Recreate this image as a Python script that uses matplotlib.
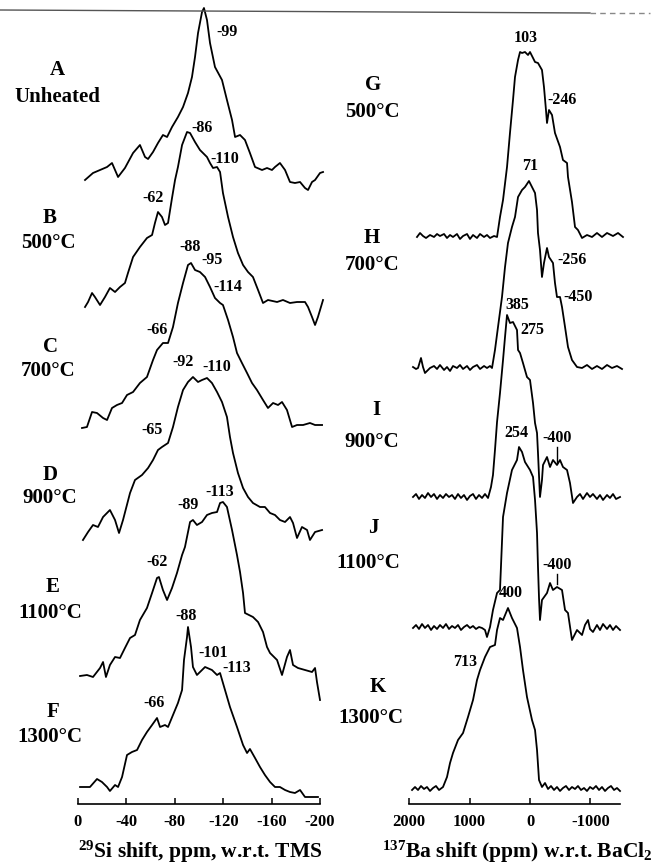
import numpy as np
import matplotlib
matplotlib.use("Agg")
import matplotlib.pyplot as plt
from matplotlib.lines import Line2D

plt.rcParams['font.family'] = ['Liberation Serif', 'DejaVu Serif']
plt.rcParams['font.weight'] = 'bold'
plt.rcParams['mathtext.fontset'] = 'custom'
plt.rcParams['mathtext.rm'] = 'Liberation Serif:bold'
plt.rcParams['mathtext.it'] = 'Liberation Serif:bold'
plt.rcParams['mathtext.bf'] = 'Liberation Serif:bold'

# ---------------- data ----------------
si_ticks = [0, -40, -80, -120, -160, -200]
si_tick_labels = ["0", "-40", "-80", "-120", "-160", "-200"]
ba_ticks = [2000, 1000, 0, -1000]
ba_tick_labels = ["2000", "1000", "0", "-1000"]

si_names = ["A", "B", "C", "D", "E", "F"]
si_conditions = ["Unheated", "500°C", "700°C", "900°C", "1100°C", "1300°C"]
ba_names = ["G", "H", "I", "J", "K"]
ba_conditions = ["500°C", "700°C", "900°C", "1100°C", "1300°C"]

# 29Si spectra: chemical shift (ppm) and intensity (arb.)
siA_ppm = [-5.8, -12.4, -18.2, -24.0, -28.1, -33.1, -38.8, -45.5, -51.2, -55.4, -57.9, -62.0, -66.1, -70.2,
           -73.6, -77.7, -82.6, -86.8, -90.9, -94.2, -96.7, -99.2, -102.5, -104.1, -106.6, -109.1, -113.2,
           -119.0, -123.1, -127.3, -129.8, -133.9, -138.0, -142.1, -146.3, -152.1, -156.2, -160.3, -162.8,
           -166.9, -171.1, -175.2, -179.3, -183.5, -187.6, -190.1, -193.4, -195.9, -200.0, -202.5]
siA_int = [2, 9, 12, 15, 19, 5, 14, 29, 37, 25, 23, 30, 39, 47, 45, 55, 65, 75, 89, 105, 125, 149, 170, 174,
           162, 139, 115, 102, 82, 62, 45, 47, 42, 29, 15, 12, 14, 12, 15, 19, 12, 0, -1, 0, -6, -8, 0, 2, 9, 10]

siB_ppm = [-5.8, -8.3, -11.6, -14.0, -18.2, -22.3, -26.4, -30.6, -34.7, -38.8, -41.3, -45.5, -51.2, -57.0,
           -61.2, -63.6, -66.1, -69.4, -71.9, -74.4, -77.7, -80.2, -82.6, -86.0, -90.1, -92.6, -96.7, -100.8,
           -106.6, -109.1, -111.6, -114.9, -117.4, -119.8, -124.0, -128.1, -132.2, -136.4, -140.5, -144.6,
           -148.8, -152.9, -157.0, -164.5, -169.4, -175.2, -181.0, -187.6, -190.1, -193.4, -195.9, -198.3, -202.5]
siB_int = [-2, 3, 12, 8, 0, 8, 17, 13, 18, 22, 32, 48, 58, 67, 70, 82, 93, 88, 80, 82, 107, 125, 138, 160,
           173, 172, 163, 155, 148, 142, 137, 138, 133, 112, 88, 68, 52, 40, 33, 28, 15, 2, 5, 3, 5, 2, 3, 3,
           -2, -12, -20, -12, 5]

siC_ppm = [-3.3, -7.4, -11.6, -15.7, -20.7, -24.0, -28.1, -32.2, -36.4, -40.5, -45.5, -51.2, -57.0, -62.0,
           -65.3, -70.2, -74.4, -78.5, -82.6, -86.8, -90.9, -93.4, -96.7, -100.8, -105.0, -109.1, -113.2,
           -117.4, -119.8, -124.0, -128.1, -131.4, -135.5, -139.7, -143.8, -147.9, -152.9, -157.0, -161.2,
           -165.3, -168.6, -172.7, -176.9, -181.0, -186.0, -191.7, -195.9, -201.7]
siC_int = [-1, 0, 15, 14, 9, 7, 19, 22, 24, 32, 35, 44, 50, 67, 77, 84, 84, 100, 124, 144, 162, 164, 157, 155,
           150, 140, 129, 124, 122, 107, 90, 74, 64, 54, 44, 37, 27, 19, 24, 22, 25, 17, 0, 2, 2, 4, 2, 2]

siD_ppm = [-4.1, -8.3, -12.4, -16.5, -20.7, -26.4, -30.6, -33.9, -37.2, -43.0, -47.1, -52.9, -57.9, -62.0,
           -66.1, -69.4, -74.4, -78.5, -82.6, -86.8, -90.9, -95.0, -99.2, -102.5, -106.6, -110.7, -114.9,
           -119.0, -123.1, -125.6, -128.1, -132.2, -136.4, -140.5, -144.6, -150.4, -154.5, -158.7, -162.8,
           -166.9, -171.1, -175.2, -177.7, -181.0, -185.1, -189.3, -191.7, -195.9, -201.7]
siD_int = [-5, 3, 10, 8, 18, 25, 15, 2, 15, 42, 55, 60, 67, 75, 85, 88, 92, 108, 128, 145, 153, 158, 153, 155,
           157, 152, 143, 133, 118, 98, 82, 62, 47, 38, 32, 28, 28, 22, 20, 15, 13, 18, 12, -3, 8, 5, -5, 3, 5]

siE_ppm = [-1.7, -7.4, -12.4, -18.2, -20.7, -23.1, -26.4, -30.6, -34.7, -38.8, -43.0, -47.1, -51.2, -57.0,
           -61.2, -65.3, -66.9, -70.2, -73.6, -77.7, -81.8, -86.0, -88.4, -92.6, -95.0, -98.3, -102.5, -106.6,
           -110.7, -114.9, -117.4, -119.8, -123.1, -127.3, -131.4, -133.9, -136.4, -138.0, -144.6, -148.8,
           -152.9, -156.2, -158.7, -164.5, -168.6, -172.7, -175.2, -177.7, -181.8, -187.6, -193.4, -195.9,
           -197.5, -200.0]
siE_int = [1, 2, 0, 9, 15, 0, 12, 20, 19, 29, 39, 42, 57, 69, 84, 99, 100, 87, 77, 89, 104, 122, 130, 155,
           157, 152, 155, 162, 164, 165, 174, 175, 170, 147, 122, 105, 84, 64, 60, 55, 45, 30, 24, 17, 2, 20,
           27, 12, 9, 7, 5, 9, -5, -23]

siF_ppm = [-1.7, -5.8, -9.9, -15.7, -19.8, -24.0, -26.4, -30.6, -33.1, -36.4, -40.5, -44.6, -48.8, -52.9,
           -57.0, -61.2, -65.3, -67.8, -71.9, -74.4, -78.5, -82.6, -86.0, -87.6, -90.1, -90.9, -93.4, -95.0,
           -98.3, -102.5, -105.0, -110.7, -114.9, -117.4, -119.8, -125.6, -131.4, -136.4, -139.7, -142.1,
           -146.3, -150.4, -154.5, -158.7, -162.8, -166.9, -171.1, -175.2, -179.3, -183.5, -187.6, -191.7, -198.3]
siF_int = [3, 3, 3, 11, 8, 3, -1, 5, 3, 13, 35, 38, 40, 50, 58, 65, 72, 63, 65, 63, 75, 87, 100, 130, 153,
           163, 143, 123, 115, 120, 123, 120, 115, 117, 107, 83, 63, 45, 37, 41, 32, 23, 15, 8, 3, 3, 0, -2,
           -3, 0, -7, -7, -7]

# 137Ba spectra: chemical shift (ppm) and intensity (arb.)
baG_ppm = [1868, 1818, 1769, 1719, 1653, 1587, 1537, 1488, 1421, 1372, 1322, 1273, 1207, 1157, 1107, 1041,
           992, 942, 876, 826, 760, 711, 661, 595, 545, 496, 446, 380, 331, 281, 248, 198, 165, 132, 83, 33,
           0, -50, -83, -132, -198, -231, -264, -281, -314, -364, -413, -496, -545, -612, -628, -694, -744,
           -793, -860, -942, -1025, -1107, -1190, -1273, -1372, -1455, -1537]
baG_int = [0, 4, 1, -1, 2, 0, 3, 1, 3, -1, 2, 0, 3, -2, 1, 3, -2, 2, -1, 3, 0, 2, -1, 1, 0, 20, 37, 70, 104,
           137, 160, 177, 185, 184, 185, 182, 185, 179, 175, 174, 167, 150, 127, 114, 127, 122, 104, 90, 77,
           74, 60, 35, 10, 7, -1, 2, 0, 4, 0, 4, 1, 4, 0]

baH_ppm = [1934, 1884, 1851, 1802, 1769, 1736, 1686, 1653, 1587, 1537, 1488, 1421, 1372, 1322, 1273, 1207,
           1157, 1107, 1041, 992, 942, 876, 826, 760, 711, 661, 628, 579, 529, 463, 413, 364, 298, 248, 198,
           132, 83, 17, -33, -83, -116, -132, -165, -198, -231, -281, -314, -380, -413, -446, -496, -529,
           -579, -628, -694, -777, -860, -942, -1025, -1107, -1190, -1273, -1355, -1438, -1521]
baH_int = [1, -1, 0, 10, 1, -5, -2, 0, 2, -1, 3, -2, 1, -3, 2, 0, 3, -1, 2, -2, 1, 3, -1, 2, 0, 2, 0, 18, 41,
           71, 101, 125, 141, 151, 171, 178, 181, 187, 181, 175, 158, 135, 118, 91, 105, 120, 111, 105, 85,
           71, 71, 61, 41, 21, 8, 1, 0, 3, -1, 2, -1, 3, 0, 2, -1]

baI_ppm = [1934, 1884, 1835, 1785, 1736, 1686, 1636, 1587, 1537, 1488, 1438, 1389, 1339, 1289, 1240, 1190,
           1141, 1091, 1041, 992, 942, 893, 843, 793, 744, 694, 645, 612, 579, 545, 496, 446, 413, 380, 331,
           281, 215, 198, 165, 116, 50, 0, -50, -83, -116, -132, -165, -198, -215, -281, -331, -380, -446,
           -496, -545, -612, -661, -711, -777, -827, -876, -942, -992, -1041, -1107, -1157, -1207, -1273,
           -1322, -1372, -1422, -1488]
baI_int = [0, 3, -2, 2, -1, 4, 0, 3, -2, 2, -1, 3, 0, 2, -2, 3, -1, 2, -3, 1, 3, -2, 2, -1, 3, -1, 10, 22,
           47, 75, 104, 137, 160, 182, 174, 175, 167, 147, 144, 134, 120, 117, 94, 74, 64, 44, 0, 17, 32,
           40, 30, 37, 32, 37, 30, 27, 14, -6, 0, 3, -2, 4, 0, 3, -2, 2, -3, 2, -1, 3, -2, 0]

baJ_ppm = [1934, 1884, 1835, 1785, 1736, 1686, 1636, 1587, 1537, 1488, 1438, 1389, 1339, 1289, 1240, 1190,
           1141, 1091, 1041, 992, 942, 893, 843, 793, 744, 711, 661, 612, 545, 496, 446, 380, 298, 215, 182,
           132, 83, 0, -50, -83, -116, -132, -149, -165, -198, -281, -331, -380, -446, -529, -579, -628,
           -694, -777, -860, -909, -959, -992, -1041, -1107, -1157, -1207, -1273, -1322, -1372, -1422, -1488]
baJ_int = [0, 3, -1, 4, 0, 3, -2, 2, -1, 3, 0, 4, -1, 2, 0, 3, -2, 1, 3, 0, 2, -1, 1, 0, -2, -9, 1, 18, 35,
           38, 111, 135, 158, 168, 181, 176, 166, 158, 151, 128, 95, 61, 30, 8, 28, 35, 45, 38, 41, 38, 18,
           15, -12, -2, -7, 3, 8, -1, -4, 3, -2, 4, -1, 3, -2, 2, -2]

baK_ppm = [1950, 1901, 1851, 1802, 1752, 1703, 1653, 1603, 1554, 1504, 1438, 1372, 1322, 1273, 1190, 1107,
           1025, 942, 876, 826, 744, 661, 579, 545, 496, 446, 364, 298, 215, 165, 116, 50, -33, -83, -116,
           -149, -198, -248, -298, -347, -397, -446, -496, -545, -595, -645, -694, -744, -793, -843, -893,
           -942, -992, -1041, -1091, -1141, -1190, -1240, -1289, -1339, -1389, -1438, -1488]
baK_int = [-1, 2, -1, 3, 0, 2, -2, 1, 3, -1, 2, 12, 26, 36, 49, 56, 72, 89, 109, 119, 132, 142, 144, 159,
           171, 169, 181, 171, 161, 142, 119, 92, 69, 59, 39, 9, 2, 6, 0, 3, -1, 2, -2, 1, 3, -1, 2, 0, 3,
           -1, 1, -2, 2, 0, 3, -1, 2, -2, 1, 3, -1, 1, -2]

si_peak_text = {"A": ["-99"], "B": ["-86", "-110", "-62"], "C": ["-88", "-95", "-114", "-66"],
                "D": ["-92", "-110", "-65"], "E": ["-89", "-113", "-62"],
                "F": ["-88", "-101", "-113", "-66"]}
ba_peak_text = {"G": ["103", "-246"], "H": ["71", "-256", "-450"], "I": ["385", "275", "-400"],
                "J": ["254", "-400"], "K": ["400", "713"]}

si_xlabel = r"$^{29}$Si shift, ppm, w.r.t. TMS"
ba_xlabel = r"$^{137}$Ba shift (ppm) w.r.t. BaCl$_2$"

# ---------------- layout ----------------
W, H = 654, 867
fig = plt.figure(figsize=(W / 100, H / 100), dpi=100)
fig.patch.set_facecolor("white")

AX_Y0 = 804  # pixel row of the x-axis line
axL = fig.add_axes([70 / W, (H - AX_Y0) / H, 260 / W, AX_Y0 / H])
axR = fig.add_axes([400 / W, (H - AX_Y0) / H, 230 / W, AX_Y0 / H])

for ax in (axL, axR):
    ax.set_ylim(0, AX_Y0)
    ax.patch.set_visible(False)
    for s in ("left", "right", "top"):
        ax.spines[s].set_visible(False)
    ax.spines["bottom"].set_linewidth(1.2)
    ax.set_yticks([])
    ax.tick_params(axis="x", direction="in", length=4, width=1.1, pad=7, labelsize=12)

axL.set_xlim(6.61, -208.26)
axL.spines["bottom"].set_bounds(-200, 0)
axL.set_xticks(si_ticks)
axL.set_xticklabels(si_tick_labels)

axR.set_xlim(2149, -1653)
axR.spines["bottom"].set_bounds(-1488, 2000)
axR.set_xticks(ba_ticks)
axR.set_xticklabels(ba_tick_labels)

si_data = {"A": (siA_ppm, siA_int), "B": (siB_ppm, siB_int), "C": (siC_ppm, siC_int),
           "D": (siD_ppm, siD_int), "E": (siE_ppm, siE_int), "F": (siF_ppm, siF_int)}
ba_data = {"G": (baG_ppm, baG_int), "H": (baH_ppm, baH_int), "I": (baI_ppm, baI_int),
           "J": (baJ_ppm, baJ_int), "K": (baK_ppm, baK_int)}

si_offset = {"A": 622, "B": 499, "C": 377, "D": 269, "E": 127, "F": 14}
ba_offset = {"G": 567, "H": 436, "I": 307, "J": 176, "K": 15}

LW = 1.3
for k in si_names:
    x, y = si_data[k]
    axL.plot(x, np.asarray(y) + si_offset[k], color="black", lw=LW, clip_on=False,
             solid_joinstyle="round")
for k in ba_names:
    x, y = ba_data[k]
    axR.plot(x, np.asarray(y) + ba_offset[k], color="black", lw=LW, clip_on=False,
             solid_joinstyle="round")

# peak labels (x in ppm, y in axis units)
si_peak_pos = {"A": [(-123, 772)],
               "B": [(-102.5, 676), (-121.5, 645), (-62, 606)],
               "C": [(-92.6, 557), (-110.7, 544), (-124, 517), (-65.3, 474)],
               "D": [(-86.8, 442), (-114.9, 437), (-61.2, 374)],
               "E": [(-90.9, 299), (-117.4, 312), (-65.3, 242)],
               "F": [(-89.3, 188), (-111.6, 151), (-131.4, 136), (-62.8, 101)]}
ba_peak_pos = {"G": [(66, 766), (-529, 704)],
               "H": [(0, 638), (-694, 544), (-793, 507)],
               "I": [(215, 499), (-33, 474), (-446, 366)],
               "J": [(231, 371), (-446, 239)],
               "K": [(314, 211), (1074, 142)]}
PK = 11.5
for k in si_names:
    for t, (px, py) in zip(si_peak_text[k], si_peak_pos[k]):
        axL.text(px, py, t, ha="center", va="center", fontsize=PK, fontweight="bold")
for k in ba_names:
    for t, (px, py) in zip(ba_peak_text[k], ba_peak_pos[k]):
        axR.text(px, py, t, ha="center", va="center", fontsize=PK, fontweight="bold")

# small tick strokes under the -400 labels
for k in ("I", "J"):
    x, y = ba_data[k]
    yc = np.interp(-446, np.asarray(x)[::-1], np.asarray(y)[::-1]) + ba_offset[k]
    lab_y = ba_peak_pos[k][-1][1]
    axR.plot([-446, -446], [lab_y - 9, yc + 3], color="black", lw=1.0)

# sample labels (figure pixel coords)
def ftext(px, py, s, size=15):
    fig.text(px / W, 1 - py / H, s, ha="center", va="center", fontsize=size, fontweight="bold")

si_lab_pos = [((57, 70), (57, 97)), ((50, 218), (48, 243)), ((50, 347), (48, 371)),
              ((50, 475), (50, 498)), ((53, 587), (50, 613)), ((53, 712), (50, 737))]
for n, c, (p1, p2) in zip(si_names, si_conditions, si_lab_pos):
    ftext(*p1, n)
    ftext(*p2, c)

ba_lab_pos = [((373, 85), (372, 112)), ((372, 238), (372, 265)), ((376, 410), (372, 442)),
              ((373, 528), (368, 563)), ((378, 687), (371, 718))]
for n, c, (p1, p2) in zip(ba_names, ba_conditions, ba_lab_pos):
    ftext(*p1, n)
    ftext(*p2, c)

# axis titles
ftext(200, 852, si_xlabel, size=15.5)
ftext(517, 852, ba_xlabel, size=15.5)

# thin scan border line at the top
fig.add_artist(Line2D([0, 590 / W], [1 - 10 / H, 1 - 13 / H], transform=fig.transFigure,
                      color="#555555", lw=1.0))
fig.add_artist(Line2D([590 / W, 650 / W], [1 - 13 / H, 1 - 13 / H], transform=fig.transFigure,
                      color="#888888", lw=1.0, ls=(0, (4, 3))))

fig.savefig("out.png", dpi=100)
